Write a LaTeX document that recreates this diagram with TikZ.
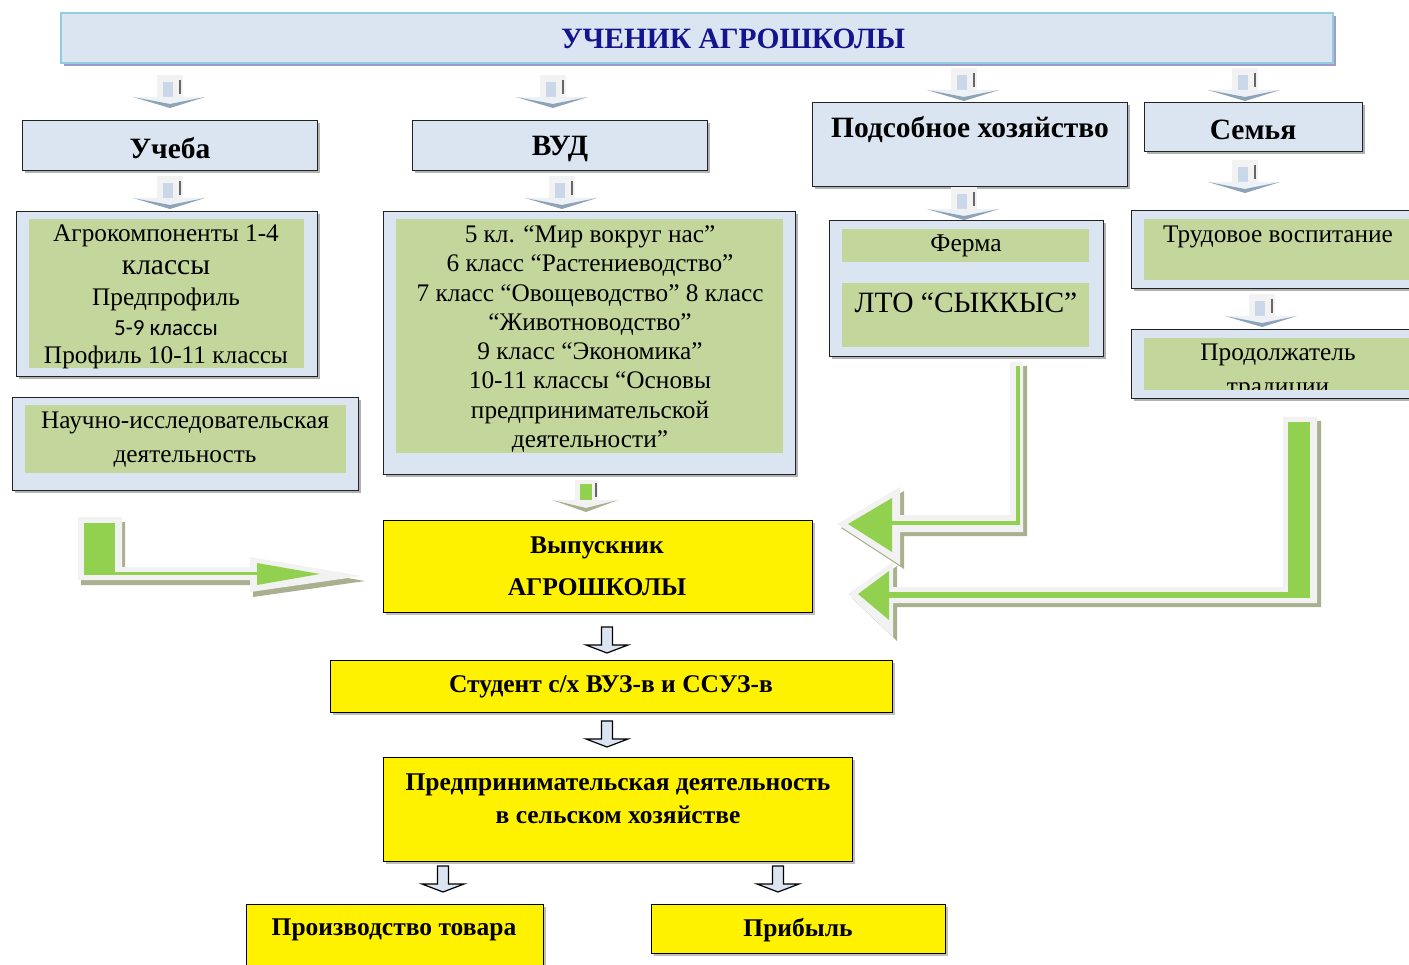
\documentclass[tikz,border=0pt]{standalone}
\usepackage{fontspec}
\setmainfont{Liberation Serif}
\newfontfamily\sansf{Carlito}
\usetikzlibrary{shadows,calc}
\definecolor{lblue}{HTML}{DBE5F1}
\definecolor{lgreen}{HTML}{C3D69B}
\definecolor{bgreen}{HTML}{92D050}
\definecolor{offwhite}{HTML}{F2F2F2}
\definecolor{olive}{HTML}{A8B08F}
\definecolor{tborder}{HTML}{93CDDD}
\definecolor{navy}{HTML}{14148F}
\definecolor{boxline}{HTML}{222222}
\definecolor{chevdark}{HTML}{8FA3B8}
\definecolor{chevlight}{HTML}{EEF2F6}
\definecolor{shaftblue}{HTML}{C9D7E8}
\begin{document}
\begin{tikzpicture}[x=1pt,y=-1pt,
  outerbox/.style={draw=boxline, line width=1.4pt, fill=lblue, anchor=north west, inner sep=0pt,
     general shadow={fill=black!30, shadow xshift=2pt, shadow yshift=-2pt}},
  innerbox/.style={fill=lgreen, anchor=north west, inner sep=0pt},
  ybox/.style={draw=black, line width=1.4pt, fill=yellow, anchor=north west, inner sep=0pt,
     general shadow={fill=black!25, shadow xshift=2pt, shadow yshift=-2pt}},
  hb/.style={font=\bfseries\fontsize{29.5}{33}\selectfont, inner sep=0pt},
  tx/.style={font=\fontsize{25.3}{29.3}\selectfont, align=center, inner sep=0pt},
  yb/.style={font=\bfseries\fontsize{25.5}{33}\selectfont, align=center, inner sep=0pt},
  chev/.pic={
    \fill[offwhite] (-13,0) rectangle (13,22);
    \fill[shaftblue] (-7,7) rectangle (3,22);
    \draw[gray!80!black, line width=1.2pt] (10,5) -- (10,19);
    \fill[chevlight] (-37,22) -- (35,22) -- (0,33) -- cycle;
    \fill[chevdark] (-37,22) -- (0,29) -- (35,22) -- (0,33) -- cycle;
  },
  gchev/.pic={
    \fill[offwhite] (-11,0) rectangle (12,20);
    \fill[bgreen] (-6,4) rectangle (6,20);
    \draw[gray!80!black, line width=1.2pt] (10,3) -- (10,17);
    \fill[offwhite] (-34,20) -- (32,20) -- (0,32) -- cycle;
    \fill[olive] (-34,20) -- (0,28) -- (32,20) -- (0,32) -- cycle;
  },
  oarrow/.pic={
    \draw[fill=lblue, line width=1.2pt, line join=miter]
      (-5.5,0) -- (5.5,0) -- (5.5,18) -- (21,18) -- (0,26) -- (-21,18) -- (-5.5,18) -- cycle;
  }
]
\useasboundingbox (0,0) rectangle (1409,965);
\clip (0,0) rectangle (1409,965);

% ---------- title ----------
\node[anchor=north west, inner sep=0pt, minimum width=1272pt, minimum height=50pt,
      fill=lblue, draw=tborder, line width=2pt,
      general shadow={fill=gray!70!blue!60, shadow xshift=3pt, shadow yshift=-3pt}] (title) at (60,12) {};
\node[hb, text=navy] (titletext) at (733,39) {УЧЕНИК АГРОШКОЛЫ};

% ---------- first-row arrows ----------
\pic at (170,75) {chev};
\pic at (553,75) {chev};
\pic at (964,68) {chev};
\pic at (1245,68) {chev};

% ---------- header boxes ----------
\node[outerbox, minimum width=295pt, minimum height=50pt] (ucheba) at (22,120) {};
\node[hb] (uchebat) at (170,148) {Учеба};
\node[outerbox, minimum width=295pt, minimum height=50pt] (vud) at (412,120) {};
\node[hb] (vudt) at (560,149) {ВУД};
\node[outerbox, minimum width=315pt, minimum height=84pt] (podsob) at (812,102) {};
\node[hb] (podsobt) at (970,130) {Подсобное хозяйство};
\node[outerbox, minimum width=218pt, minimum height=49pt] (semya) at (1144,102) {};
\node[hb] (semyat) at (1253,130) {Семья};

% ---------- second-row arrows ----------
\pic at (170,176) {chev};
\pic at (562,176) {chev};
\pic at (964,187) {chev};
\pic at (1245,160) {chev};
\pic at (1262,294) {chev};

% ---------- left column ----------
\node[outerbox, minimum width=301pt, minimum height=165pt] (agro) at (16,211) {};
\node[innerbox, minimum width=275pt, minimum height=149pt] (agroin) at (29,219) {};
\node[tx] (a1) at (166,236) {Агрокомпоненты 1-4};
\node[tx, font=\fontsize{29.5}{30}\selectfont] (a2) at (166,268) {классы};
\node[tx, font=\fontsize{25.3}{28}\selectfont] (a3) at (166,299) {Предпрофиль};
\node[tx, font=\sansf\fontsize{23}{24}\selectfont] (a4) at (166,328) {5-9 классы};
\node[tx, font=\fontsize{25.3}{28}\selectfont] (a5) at (166,357) {Профиль 10-11 классы};

\node[outerbox, minimum width=346pt, minimum height=93pt] (nauch) at (12,397) {};
\node[innerbox, minimum width=321pt, minimum height=68pt] (nauchin) at (25,405) {};
\node[tx, font=\fontsize{25.3}{34}\selectfont] (nauchtext) at (185,440) {Научно-исследовательская\\деятельность};

% ---------- VUD content ----------
\node[outerbox, minimum width=412pt, minimum height=263pt] (vudc) at (383,211) {};
\node[innerbox, minimum width=387pt, minimum height=234pt] (vudcin) at (396,219) {};
\node[tx] (vudtext) at (590,339) {5 кл. “Мир вокруг нас”\\6 класс “Растениеводство”\\7 класс “Овощеводство” 8 класс\\“Животноводство”\\9 класс “Экономика”\\10-11 классы “Основы\\предпринимательской\\деятельности”};

% ---------- farm ----------
\node[outerbox, minimum width=274pt, minimum height=136pt] (ferma) at (829,220) {};
\node[innerbox, minimum width=247pt, minimum height=33pt] (fermain) at (842,229) {};
\node[tx, font=\fontsize{25.5}{26}\selectfont] (fermat) at (966,246) {Ферма};
\node[innerbox, minimum width=247pt, minimum height=64pt] (lto) at (842,283) {};
\node[tx, font=\fontsize{29.5}{30}\selectfont] (ltot) at (966,303) {ЛТО “СЫККЫС”};

% ---------- family column ----------
\node[outerbox, minimum width=300pt, minimum height=78pt] (trud) at (1131,210) {};
\node[innerbox, minimum width=290pt, minimum height=61pt] (trudin) at (1144,219) {};
\node[tx] (trudt) at (1278,237) {Трудовое воспитание};
\node[outerbox, minimum width=300pt, minimum height=69pt] (prod) at (1131,329) {};
\node[innerbox, minimum width=290pt, minimum height=52pt] (prodin) at (1144,338) {};
\node[tx] (prodt) at (1278,355) {Продолжатель};
\begin{scope}
  \clip (1144,338) rectangle (1420,390);
  \node[tx] (prodt2) at (1278,391) {традиции};
\end{scope}

% ---------- green arrows ----------
% left L arrow
\fill[olive] (81,522) -- (125,522) -- (125,572) -- (253,572) -- (253,562) -- (365,581) -- (253,597) -- (253,585) -- (81,585) -- cycle;
\fill[offwhite] (78,517) -- (122,517) -- (122,567) -- (250,567) -- (250,557) -- (362,576) -- (250,592) -- (250,580) -- (78,580) -- cycle;
\fill[bgreen] (84,523) rectangle (115,575);
\fill[bgreen] (115,572) rectangle (258,575);
\fill[bgreen] (257,563) -- (320,574) -- (257,585) -- cycle;

% right arrow 1 (from farm)
\fill[olive] (1014,366) -- (1027,366) -- (1027,536) -- (904,536) -- (904,569) -- (841,528) -- (904,491) -- (904,519) -- (1014,519) -- cycle;
\fill[offwhite] (1010,362) -- (1023,362) -- (1023,532) -- (900,532) -- (900,565) -- (837,524) -- (900,487) -- (900,515) -- (1010,515) -- cycle;
\fill[bgreen] (1016,366) rectangle (1020,525);
\fill[bgreen] (892,521) rectangle (1020,525);
\fill[bgreen] (892,498) -- (848,524) -- (892,552) -- cycle;

% right arrow 2 (from family)
\fill[olive] (1287,421) -- (1321,421) -- (1321,607) -- (897,607) -- (897,641) -- (852,598) -- (897,566) -- (897,591) -- (1287,591) -- cycle;
\fill[offwhite] (1283,417) -- (1317,417) -- (1317,603) -- (893,603) -- (893,637) -- (848,594) -- (893,562) -- (893,587) -- (1283,587) -- cycle;
\fill[bgreen] (1288,422) rectangle (1310,598);
\fill[bgreen] (888,592) rectangle (1310,598);
\fill[bgreen] (889,571) -- (858,594) -- (889,620) -- cycle;

% green chevron above graduate
\pic at (586,480) {gchev};

% ---------- yellow chain ----------
\node[ybox, minimum width=429pt, minimum height=92pt] (vyp) at (383,520) {};
\node[yb, font=\bfseries\fontsize{25.5}{42}\selectfont] (vypt) at (597,566) {Выпускник\\АГРОШКОЛЫ};

\pic at (607,627) {oarrow};
\node[ybox, minimum width=562pt, minimum height=52pt] (stud) at (330,660) {};
\node[yb] (studt) at (611,687) {Студент с/х ВУЗ-в и ССУЗ-в};

\pic at (607,721) {oarrow};
\node[ybox, minimum width=469pt, minimum height=104pt] (pred) at (383,757) {};
\node[yb] (predt) at (618,799) {Предпринимательская деятельность\\в сельском хозяйстве};

\pic at (443,866) {oarrow};
\pic at (778,866) {oarrow};
\node[ybox, minimum width=297pt, minimum height=80pt] (proizv) at (246,904) {};
\node[yb] (proizvt) at (394,930) {Производство товара};
\node[ybox, minimum width=294pt, minimum height=49pt] (pribyl) at (651,904) {};
\node[yb] (pribylt) at (798,930) {Прибыль};
\end{tikzpicture}
\end{document}
